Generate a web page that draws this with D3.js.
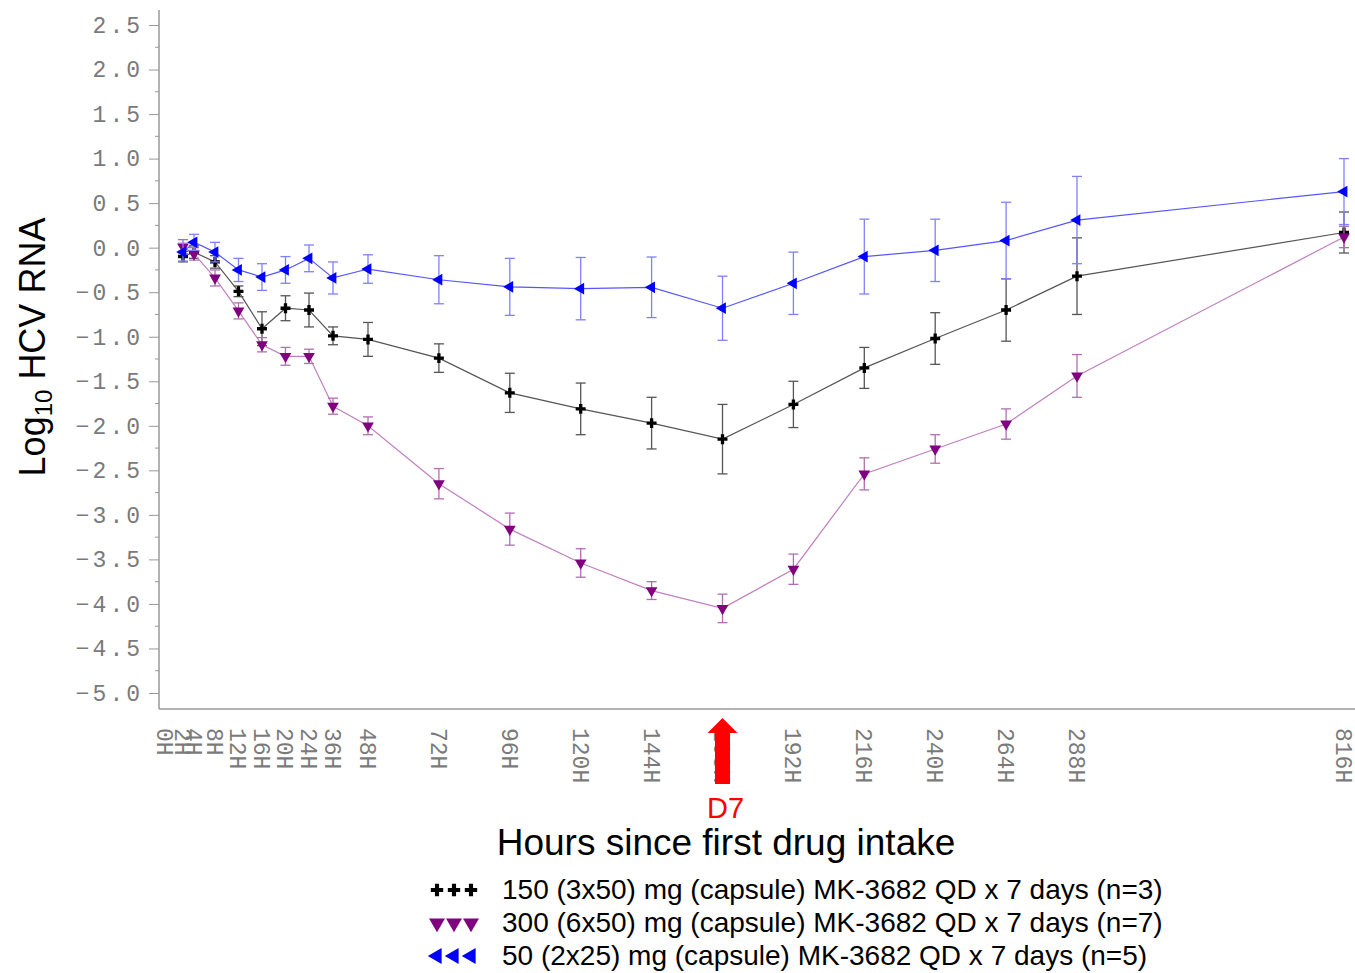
<!DOCTYPE html>
<html>
<head>
<meta charset="utf-8">
<script src="https://cdn.jsdelivr.net/npm/d3@7"></script>
<style>
  body { margin: 0; background: #fff; }
  svg { display: block; }
</style>
</head>
<body>
<svg id="chart" width="1355" height="973"></svg>
<script>
// ---------- Data ----------
const hours = [2, 4, 8, 12, 16, 20, 24, 36, 48, 72, 96, 120, 144, 168, 192, 216, 240, 264, 288, 816];
const tickHours = [0, 2, 4, 8, 12, 16, 20, 24, 36, 48, 72, 96, 120, 144, 168, 192, 216, 240, 264, 288, 816];
const yTicks = [2.5, 2.0, 1.5, 1.0, 0.5, 0.0, -0.5, -1.0, -1.5, -2.0, -2.5, -3.0, -3.5, -4.0, -4.5, -5.0];

// 150 (3x50) mg
const mean150 = [-0.10, -0.05, -0.16, -0.49, -0.91, -0.68, -0.70, -0.99, -1.03, -1.24, -1.63, -1.81, -1.97, -2.15, -1.76, -1.35, -1.02, -0.70, -0.32, 0.17];
const err150  = [0.06, 0.07, 0.07, 0.06, 0.19, 0.14, 0.19, 0.10, 0.19, 0.16, 0.22, 0.29, 0.29, 0.39, 0.26, 0.23, 0.29, 0.35, 0.43, 0.23];
// 300 (6x50) mg
const mean300 = [0.01, -0.07, -0.34, -0.71, -1.09, -1.22, -1.22, -1.78, -2.00, -2.65, -3.16, -3.54, -3.85, -4.05, -3.61, -2.54, -2.26, -1.98, -1.44, 0.12];
const err300  = [0.08, 0.07, 0.09, 0.09, 0.08, 0.10, 0.08, 0.09, 0.10, 0.17, 0.18, 0.16, 0.10, 0.16, 0.17, 0.18, 0.16, 0.17, 0.24, 0.12];
// 50 (2x25) mg
const mean50 = [-0.05, 0.06, -0.05, -0.25, -0.33, -0.25, -0.12, -0.34, -0.24, -0.36, -0.44, -0.46, -0.445, -0.68, -0.40, -0.10, -0.03, 0.08, 0.31, 0.63];
const err50  = [0.10, 0.09, 0.11, 0.13, 0.15, 0.15, 0.15, 0.18, 0.16, 0.27, 0.32, 0.35, 0.34, 0.36, 0.35, 0.42, 0.35, 0.43, 0.49, 0.37];

const legendLabels = [
  "150 (3x50) mg (capsule) MK-3682 QD x 7 days (n=3)",
  "300 (6x50) mg (capsule) MK-3682 QD x 7 days (n=7)",
  "50 (2x25) mg (capsule) MK-3682 QD x 7 days (n=5)"
];

const series = [
  {name: legendLabels[0], mean: mean150, err: err150, marker: "cross", fill: "#000", line: "#555", bar: "#555"},
  {name: legendLabels[1], mean: mean300, err: err300, marker: "down", fill: "#800080", line: "#c080c0", bar: "#b070b0"},
  {name: legendLabels[2], mean: mean50, err: err50, marker: "left", fill: "#0000ff", line: "#5555ff", bar: "#8080ff"}
];

// ---------- Scales ----------
const svg = d3.select("#chart");
const axisX = 159, axisTop = 10, axisBottom = 709;

// the time axis is broken into uneven pieces in the original
const x = d3.scaleLinear()
  .domain([0, 2, 4, 8, 24, 36, 48, 288, 816])
  .range([165, 183, 194, 215, 309, 333, 368, 1077, 1344]);

const y = d3.scaleLinear()
  .domain([-5, 2.5])
  .range([693, 25]);

// ---------- Axes ----------
const gray = "#999";

const yAxis = svg.append("g")
  .attr("transform", `translate(${axisX},0)`)
  .call(d3.axisLeft(y).tickValues(yTicks).tickSize(10).tickPadding(6).tickFormat(d3.format(".1f")));
yAxis.select(".domain").remove();
yAxis.selectAll(".tick line").attr("stroke", gray);
yAxis.selectAll(".tick text")
  .attr("fill", "#7a7a7a")
  .style("font-family", "'Liberation Mono', 'DejaVu Sans Mono', monospace")
  .style("font-size", "23px")
  .style("letter-spacing", "3px");

const minor = d3.range(-4.75, 2.5, 0.5);
svg.append("g").selectAll("line")
  .data(minor)
  .join("line")
  .attr("x1", axisX - 4).attr("x2", axisX)
  .attr("y1", d => y(d)).attr("y2", d => y(d))
  .attr("stroke", gray);

svg.append("line")
  .attr("x1", axisX).attr("x2", axisX)
  .attr("y1", axisTop).attr("y2", axisBottom)
  .attr("stroke", gray).attr("stroke-width", 1.5);

svg.append("line")
  .attr("x1", axisX).attr("x2", 1355)
  .attr("y1", axisBottom).attr("y2", axisBottom)
  .attr("stroke", gray).attr("stroke-width", 1.5);

svg.append("g").selectAll("text")
  .data(tickHours)
  .join("text")
  .attr("transform", d => `translate(${x(d)},728) rotate(90)`)
  .attr("dy", "0.35em")
  .attr("fill", "#7a7a7a")
  .style("font-family", "'Liberation Mono', 'DejaVu Sans Mono', monospace")
  .style("font-size", "23px")
  .text(d => d + "H");

// ---------- Series ----------
function symbolFor(kind, size) {
  if (kind === "cross") return d3.symbol(d3.symbolCross, size);
  return d3.symbol(d3.symbolTriangle, size);
}
const rot = {cross: 0, down: 180, left: -90};

const line = d3.line().x(d => x(d.h)).y(d => y(d.v));

series.forEach(s => {
  const pts = hours.map((h, i) => ({h, v: s.mean[i], e: s.err[i]}));
  const g = svg.append("g");

  g.append("path")
    .datum(pts)
    .attr("d", line)
    .attr("fill", "none")
    .attr("stroke", s.line)
    .attr("stroke-width", 1.2);

  const bars = g.selectAll(".bar").data(pts).join("g").attr("class", "bar")
    .attr("stroke", s.bar).attr("stroke-width", 1.3);
  bars.append("line")
    .attr("x1", d => x(d.h)).attr("x2", d => x(d.h))
    .attr("y1", d => y(d.v + d.e)).attr("y2", d => y(d.v - d.e));
  bars.append("line")
    .attr("x1", d => x(d.h) - 5).attr("x2", d => x(d.h) + 5)
    .attr("y1", d => y(d.v + d.e)).attr("y2", d => y(d.v + d.e));
  bars.append("line")
    .attr("x1", d => x(d.h) - 5).attr("x2", d => x(d.h) + 5)
    .attr("y1", d => y(d.v - d.e)).attr("y2", d => y(d.v - d.e));

  g.selectAll(".pt").data(pts).join("path").attr("class", "pt")
    .attr("transform", d => `translate(${x(d.h)},${y(d.v)}) rotate(${rot[s.marker]})`)
    .attr("d", symbolFor(s.marker, s.marker === "cross" ? 55 : 60))
    .attr("fill", s.fill);
});

// ---------- D7 arrow ----------
const ax = x(168);
svg.append("path")
  .attr("d", `M${ax},718 L${ax + 15},733 L${ax + 7.5},733 L${ax + 7.5},784 L${ax - 7.5},784 L${ax - 7.5},733 L${ax - 15},733 Z`)
  .attr("fill", "#ff0000");
svg.append("text")
  .attr("x", ax + 3).attr("y", 818)
  .attr("text-anchor", "middle")
  .attr("fill", "#ff0000")
  .style("font-family", "'Liberation Sans', Arial, sans-serif")
  .style("font-size", "29px")
  .text("D7");

// ---------- Titles ----------
svg.append("text")
  .attr("x", 726).attr("y", 855)
  .attr("text-anchor", "middle")
  .style("font-family", "'Liberation Sans', Arial, sans-serif")
  .style("font-size", "37px")
  .text("Hours since first drug intake");

const yt = svg.append("text")
  .attr("transform", "translate(45,347) rotate(-90)")
  .attr("text-anchor", "middle")
  .style("font-family", "'Liberation Sans', Arial, sans-serif")
  .style("font-size", "36px");
yt.append("tspan").text("Log");
yt.append("tspan").attr("dy", "0.3em").style("font-size", "24px").text("10");
yt.append("tspan").attr("dy", "-0.2em").text(" HCV RNA");

// ---------- Legend ----------
const legend = svg.append("g");
series.forEach((s, i) => {
  const ly = 890 + i * 33;
  legend.selectAll(null).data([0, 1, 2]).join("path")
    .attr("transform", k => `translate(${437 + k * 17},${ly}) rotate(${rot[s.marker]})`)
    .attr("d", symbolFor(s.marker, s.marker === "cross" ? 85 : 110))
    .attr("fill", s.fill);
  legend.append("text")
    .attr("x", 502).attr("y", ly + 9)
    .style("font-family", "'Liberation Sans', Arial, sans-serif")
    .style("font-size", "28px")
    .text(s.name);
});
</script>
</body>
</html>
